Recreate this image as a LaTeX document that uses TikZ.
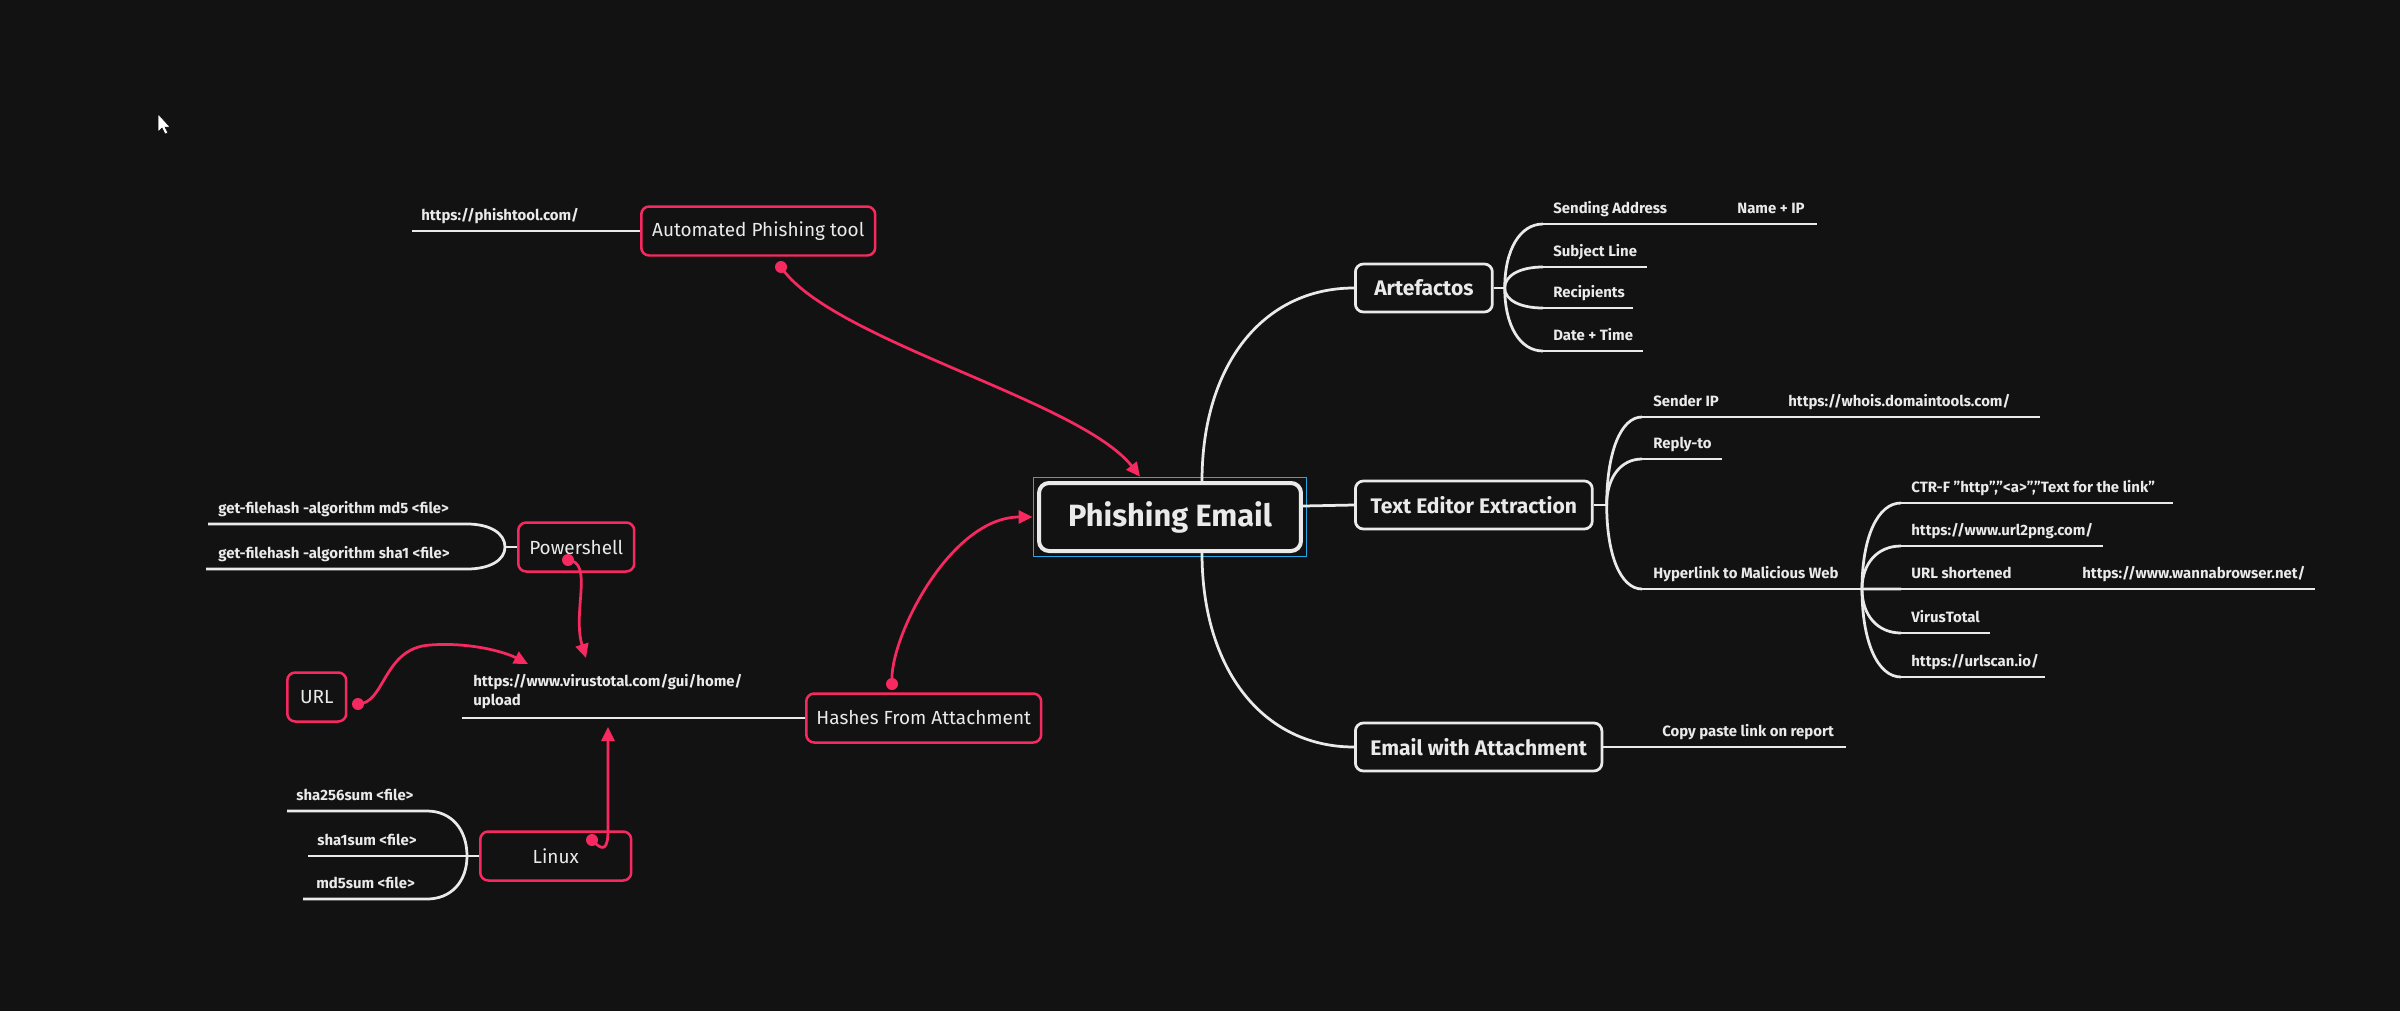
\documentclass[tikz,border=0pt]{standalone}
\usepackage{fontspec}
\setmainfont{Fira Sans}
\usepackage{tikz}
\usetikzlibrary{calc,positioning,fit,arrows.meta}
\definecolor{mybg}{RGB}{18,18,18}
\definecolor{mywhite}{RGB}{234,234,234}
\definecolor{mypink}{RGB}{246,42,96}
\definecolor{myblue}{RGB}{36,166,234}

\begin{document}
\begin{tikzpicture}[
  x=0.02cm, y=-0.02cm,
  branch/.style={draw=mywhite, line width=0.055cm},
  rootbox/.style={
    draw=mywhite,
    line width=0.08cm,
    rounded corners=0.2cm,
    fill=mybg,
    text=mywhite,
    font=\bfseries\fontsize{17.5}{21}\selectfont,
    minimum width=5.24cm,
    minimum height=1.36cm
    },
  topicbox/.style={
    draw=mywhite,
    line width=0.055cm,
    rounded corners=0.16cm,
    fill=mybg,
    text=mywhite,
    font=\bfseries\fontsize{12}{14}\selectfont,
    inner xsep=0.3cm,
    minimum height=0.96cm,
    anchor=west
    },
  pinkbox/.style={
    draw=mypink,
    line width=0.05cm,
    rounded corners=0.16cm,
    fill=mybg,
    text=mywhite,
    font=\fontsize{10.8}{13}\selectfont,
    inner xsep=0.16cm,
    minimum height=0.98cm,
    anchor=west
    },
  leaf/.style={
    anchor=base west,
    inner sep=0pt,
    text=mywhite,
    font=\bfseries\fontsize{8.5}{10.5}\selectfont
    },
  reldot/.style={circle, fill=mypink, inner sep=0pt, minimum size=0.24cm},
  rel/.style={draw=mypink, line width=0.055cm, -{Triangle[length=0.28cm,width=0.26cm]}}
]
\useasboundingbox (0,0) rectangle (2400,1011);
\fill[mybg] (0,0) rectangle (2400,1011);

% mouse pointer
\filldraw[fill=white, draw=black, line width=0.01cm]
  (158,114) -- (158,132) -- (162,128) -- (165,134) -- (168,133) -- (165,127) -- (170,127) -- cycle;

% central topic
\node[rootbox] (main) at (1170,517) {Phishing Email};
\node[draw=myblue, line width=0.035cm, fit=(main), inner sep=0.07cm] (sel) {};

% main topics
\node[topicbox, minimum width=2.74cm] (art) at (1354,288) {Artefactos};
\node[topicbox, minimum width=4.74cm] (tee) at (1354,505) {Text Editor Extraction};
\node[topicbox, minimum width=4.92cm] (ewa) at (1354,747) {Email with Attachment};

\coordinate (m-up) at ($(main.north)+(32,0)$);
\coordinate (m-dn) at ($(main.south)+(32,0)$);
\draw[branch] (m-up) .. controls ($(m-up)!.6!(m-up |- art.west)$) and ($(art.west)!.6!(m-up |- art.west)$) .. (art.west);
\draw[branch] (m-dn) .. controls ($(m-dn)!.6!(m-dn |- ewa.west)$) and ($(ewa.west)!.6!(m-dn |- ewa.west)$) .. (ewa.west);
\draw[branch] ($(main.east)+(0,-11)$) -- (tee.west);

% Artefactos
\coordinate[right=0.22cm of art] (art-j);
\draw[branch] (art.east) -- (art-j);
\coordinate (sa) at (1543,224); \coordinate (nip) at (1728,224); \coordinate (nip-e) at (1817,224);
\coordinate (sl) at (1543,267); \coordinate (sl-e) at (1647,267);
\coordinate (rc) at (1543,308); \coordinate (rc-e) at (1633,308);
\coordinate (dt) at (1543,351); \coordinate (dt-e) at (1643,351);
\foreach \Rama in {sa,sl,rc,dt}
  \draw[branch] (art-j) .. controls ($(art-j)!.6!(art-j |- \Rama)$) and ($(\Rama)!.6!(art-j |- \Rama)$) .. (\Rama);
\draw[branch] (sa) -- (nip-e);
\draw[branch] (sl) -- (sl-e);
\draw[branch] (rc) -- (rc-e);
\draw[branch] (dt) -- (dt-e);
\node[leaf] (sa-t) at ($(sa)+(10,-11)$) {Sending Address};
\node[leaf] (nip-t) at ($(nip)+(9,-11)$) {Name + IP};
\node[leaf] (sl-t) at ($(sl)+(10,-11)$) {Subject Line};
\node[leaf] (rc-t) at ($(rc)+(10,-11)$) {Recipients};
\node[leaf] (dt-t) at ($(dt)+(10,-11)$) {Date + Time};

% Text Editor Extraction
\coordinate[right=0.26cm of tee] (tee-j);
\draw[branch] (tee.east) -- (tee-j);
\coordinate (sip) at (1642,417); \coordinate (who) at (1778,417); \coordinate (who-e) at (2040,417);
\coordinate (rt) at (1642,459); \coordinate (rt-e) at (1722,459);
\coordinate (hl) at (1642,589); \coordinate (hl-j) at (1862,589);
\foreach \Rama in {sip,rt,hl}
  \draw[branch] (tee-j) .. controls ($(tee-j)!.6!(tee-j |- \Rama)$) and ($(\Rama)!.6!(tee-j |- \Rama)$) .. (\Rama);
\draw[branch] (sip) -- (who-e);
\draw[branch] (rt) -- (rt-e);
\draw[branch] (hl) -- (hl-j);
\node[leaf] (sip-t) at ($(sip)+(11,-11)$) {Sender IP};
\node[leaf] (who-t) at ($(who)+(10,-11)$) {https://whois.domaintools.com/};
\node[leaf] (rt-t) at ($(rt)+(11,-11)$) {Reply-to};
\node[leaf] (hl-t) at ($(hl)+(11,-11)$) {Hyperlink to Malicious Web};

% Hyperlink to Malicious Web
\coordinate (ctrf) at (1901,503); \coordinate (ctrf-e) at (2173,503);
\coordinate (u2p) at (1901,546); \coordinate (u2p-e) at (2103,546);
\coordinate (ush) at (1901,589); \coordinate (wb) at (2072,589); \coordinate (wb-e) at (2315,589);
\coordinate (vtl) at (1901,633); \coordinate (vtl-e) at (1990,633);
\coordinate (usc) at (1901,677); \coordinate (usc-e) at (2045,677);
\foreach \Rama in {ctrf,u2p,ush,vtl,usc}
  \draw[branch] (hl-j) .. controls ($(hl-j)!.6!(hl-j |- \Rama)$) and ($(\Rama)!.6!(hl-j |- \Rama)$) .. (\Rama);
\draw[branch] (ctrf) -- (ctrf-e);
\draw[branch] (u2p) -- (u2p-e);
\draw[branch] (ush) -- (wb-e);
\draw[branch] (vtl) -- (vtl-e);
\draw[branch] (usc) -- (usc-e);
\node[leaf] (ctrf-t) at ($(ctrf)+(10,-11)$) {CTR-F "http","<a>","Text for the link"};
\node[leaf] (u2p-t) at ($(u2p)+(10,-11)$) {https://www.url2png.com/};
\node[leaf] (ush-t) at ($(ush)+(10,-11)$) {URL shortened};
\node[leaf] (wb-t) at ($(wb)+(10,-11)$) {https://www.wannabrowser.net/};
\node[leaf] (vtl-t) at ($(vtl)+(10,-11)$) {VirusTotal};
\node[leaf] (usc-t) at ($(usc)+(10,-11)$) {https://urlscan.io/};

% Email with Attachment
\coordinate (cp) at (1653,747); \coordinate (cp-e) at (1846,747);
\draw[branch] (ewa.east) -- (cp-e);
\node[leaf] (cp-t) at ($(cp)+(9,-11)$) {Copy paste link on report};

% Automated Phishing tool
\node[pinkbox, minimum width=4.68cm] (auto) at (640,231) {Automated Phishing tool};
\coordinate (pt-l) at (412,231);
\draw[branch] (auto.west) -- (pt-l);
\node[leaf] (pt-t) at ($(pt-l)+(9,-11)$) {https://phishtool.com/};

% Powershell
\node[pinkbox, minimum width=2.32cm] (ps) at (517,547) {Powershell};
\coordinate[left=0.24cm of ps] (ps-j);
\draw[branch] (ps.west) -- (ps-j);
\coordinate (md5ps-r) at (467,524); \coordinate (md5ps-l) at (208,524);
\coordinate (sha1ps-r) at (467,569); \coordinate (sha1ps-l) at (206,569);
\foreach \Rama in {md5ps,sha1ps}
  \draw[branch] (ps-j) .. controls ($(ps-j)!.6!(ps-j |- \Rama-r)$) and ($(\Rama-r)!.6!(ps-j |- \Rama-r)$) .. (\Rama-r) -- (\Rama-l);
\node[leaf] (md5ps-t) at ($(md5ps-l)+(10,-11)$) {get-filehash -algorithm md5 <file>};
\node[leaf] (sha1ps-t) at ($(sha1ps-l)+(12,-11)$) {get-filehash -algorithm sha1 <file>};

% Hashes From Attachment
\node[pinkbox, minimum width=1.18cm] (url) at (286,697) {URL};
\node[pinkbox, minimum width=4.7cm] (hash) at (805,718) {Hashes From Attachment};
\coordinate (vt-l) at (462,718);
\draw[branch] (hash.west) -- (vt-l);
\node[leaf, anchor=south west, align=left] (vt-t) at ($(vt-l)+(11,-9)$) {https://www.virustotal.com/gui/home/\\upload};

% Linux
\node[pinkbox, minimum width=3.02cm] (linux) at (479,856) {Linux};
\coordinate[left=0.24cm of linux] (lx-j);
\draw[branch] (linux.west) -- (lx-j);
\coordinate (s256-r) at (427,811); \coordinate (s256-l) at (287,811);
\coordinate (s1-r) at (467,856); \coordinate (s1-l) at (308,856);
\coordinate (m5-r) at (427,899); \coordinate (m5-l) at (303,899);
\foreach \Rama in {s256,s1,m5}
  \draw[branch] (lx-j) .. controls ($(lx-j)!.6!(lx-j |- \Rama-r)$) and ($(\Rama-r)!.6!(lx-j |- \Rama-r)$) .. (\Rama-r) -- (\Rama-l);
\node[leaf] (s256-t) at ($(s256-l)+(9,-11)$) {sha256sum <file>};
\node[leaf] (s1-t) at ($(s1-l)+(9,-11)$) {sha1sum <file>};
\node[leaf] (m5-t) at ($(m5-l)+(13,-11)$) {md5sum <file>};

% relationships
\coordinate (vt-in1) at (586,658);
\coordinate (vt-in2) at (528,664);
\coordinate (vt-in3) at (608,727);
\node[reldot] (auto-d) at (781,267) {};
\node[reldot] (hash-d) at (892,684) {};
\node[reldot] (ps-d) at (568,560) {};
\node[reldot] (url-d) at (358,704) {};
\node[reldot] (lx-d) at (592,840) {};
\draw[rel] (auto-d.center) .. controls (830,340) and (1080,400) .. ($(sel.north)+(-30,0)$);
\draw[rel] (hash-d.center) .. controls (888,640) and (950,517) .. (sel.west);
\draw[rel] (ps-d.center) .. controls (594,562) and (572,612) .. (vt-in1);
\draw[rel] (url-d.center) .. controls (385,704) and (383,648) .. (430,645) .. controls (470,642) and (505,652) .. (vt-in2);
\draw[rel] (lx-d.center) .. controls (603,852) and (608,850) .. (608,830) -- (vt-in3);

\end{tikzpicture}
\end{document}
